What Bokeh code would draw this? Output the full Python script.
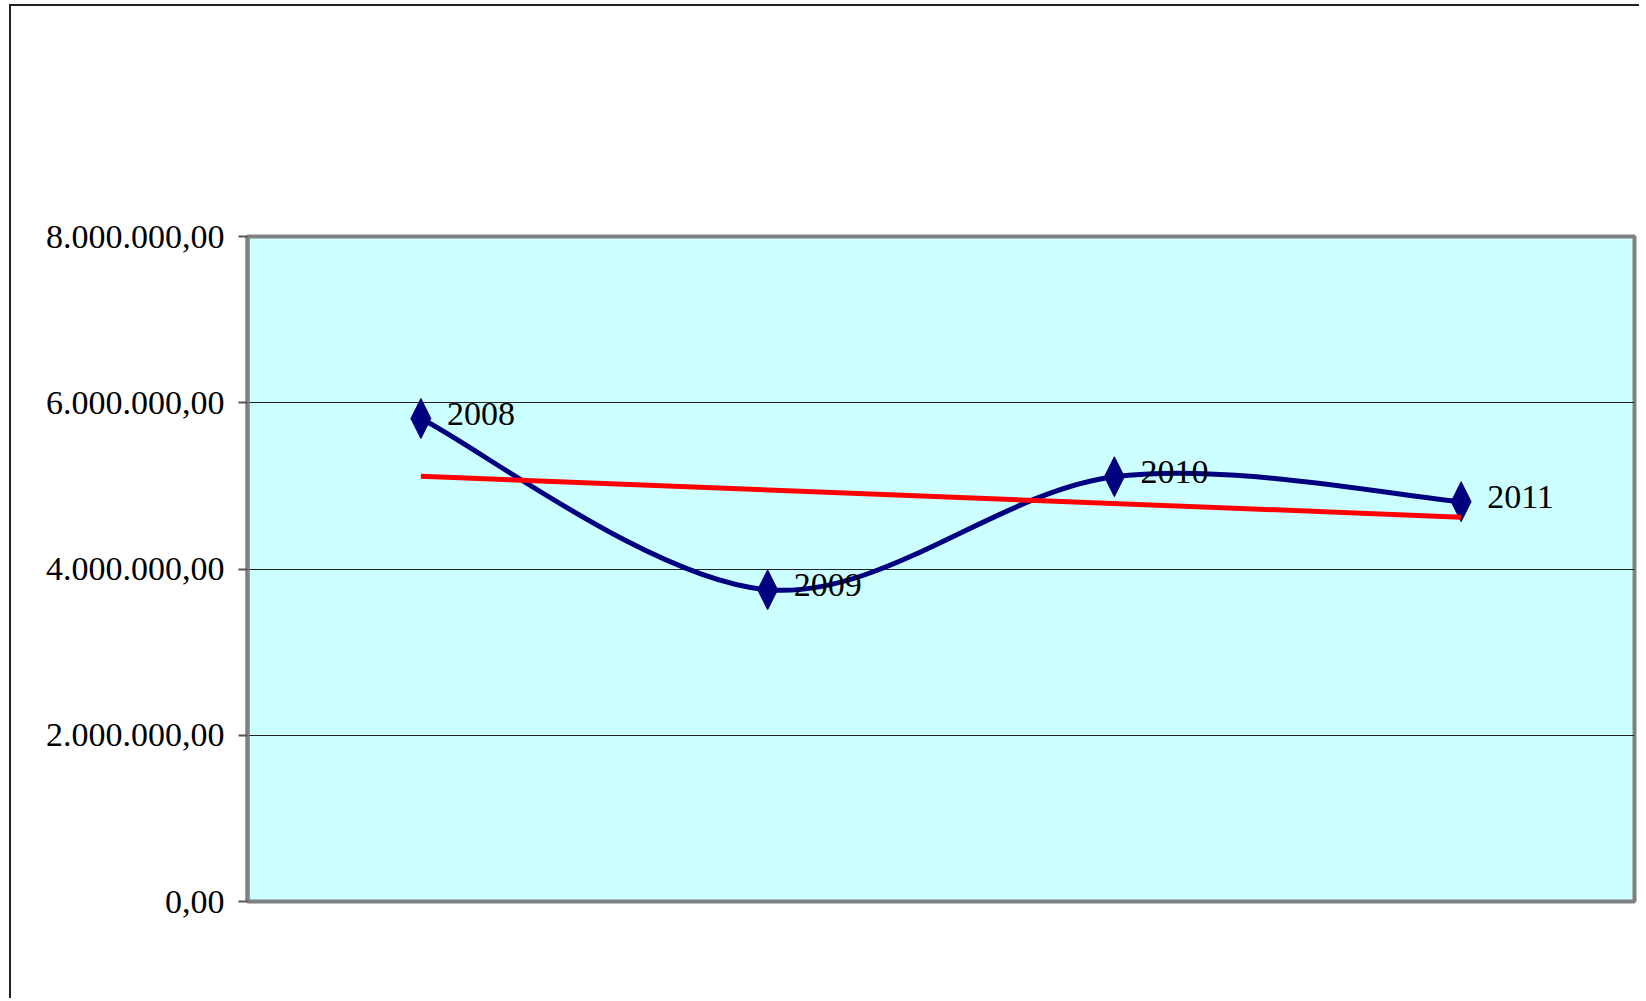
import numpy as np
from bokeh.plotting import figure
from bokeh.models import Range1d, FixedTicker
from bokeh.core.properties import value
from bokeh.embed import file_html
from bokeh.resources import INLINE

# ---- data ----
years = ["2008", "2009", "2010", "2011"]
amounts = [5810000, 3750000, 5110000, 4810000]
tick_values = [0, 2000000, 4000000, 6000000, 8000000]
tick_labels = ["0,00", "2.000.000,00", "4.000.000,00", "6.000.000,00", "8.000.000,00"]

# ---- layout / style ----
W, H = 1630, 994
B_LEFT, B_RIGHT, B_TOP, B_BOTTOM = 236, 7, 230, 99
Y_MAX = tick_values[-1]
NAVY = "#000080"
FONT = "Liberation Serif"
MARK_W_PX, MARK_H_PX = 20, 40

n = len(years)
xs = np.arange(n) + 0.5
ys = np.array(amounts, dtype=float)

p = figure(width=W, height=H, output_backend="svg", toolbar_location=None,
           x_range=Range1d(0, n), y_range=Range1d(0, Y_MAX),
           x_axis_location=None,
           min_border_left=B_LEFT, min_border_right=B_RIGHT,
           min_border_top=B_TOP, min_border_bottom=B_BOTTOM,
           background_fill_color="#CCFFFF", border_fill_color="white")
p.styles = {"border-left": "2px solid #222222", "border-top": "2px solid #222222",
            "margin-left": "9px", "margin-top": "4px"}

p.outline_line_color = "#808080"
p.outline_line_width = 4
p.xgrid.visible = False
p.ygrid.grid_line_color = "#222222"
p.ygrid.grid_line_width = 1

ax = p.yaxis[0]
ax.ticker = FixedTicker(ticks=tick_values)
ax.major_label_overrides = {v: s for v, s in zip(tick_values, tick_labels)}
ax.major_label_text_font = FONT
ax.major_label_text_font_size = "34px"
ax.major_label_text_color = "black"
ax.major_label_standoff = 14
ax.major_tick_out = 9
ax.major_tick_in = 0
ax.major_tick_line_color = "#555555"
ax.major_tick_line_width = 2
ax.minor_tick_line_color = None
ax.axis_line_color = "#808080"
ax.axis_line_width = 4

# ---- smoothed series line (Catmull-Rom style Bezier segments through the points) ----
pts = list(zip(xs, ys))
ext = [pts[0]] + pts + [pts[-1]]
x0, y0, x1, y1, cx0, cy0, cx1, cy1 = ([] for _ in range(8))
for i in range(n - 1):
    (ax0, ay0), (ax1, ay1), (ax2, ay2), (ax3, ay3) = ext[i], ext[i + 1], ext[i + 2], ext[i + 3]
    x0.append(ax1); y0.append(ay1)
    x1.append(ax2); y1.append(ay2)
    cx0.append(ax1 + (ax2 - ax0) / 6.0); cy0.append(ay1 + (ay2 - ay0) / 6.0)
    cx1.append(ax2 - (ax3 - ax1) / 6.0); cy1.append(ay2 - (ay3 - ay1) / 6.0)
p.bezier(x0=x0, y0=y0, x1=x1, y1=y1, cx0=cx0, cy0=cy0, cx1=cx1, cy1=cy1,
         line_color=NAVY, line_width=5, line_cap="round")

# ---- diamond markers (tall, narrow as in the reference) ----
frame_w = W - B_LEFT - B_RIGHT
frame_h = H - B_TOP - B_BOTTOM
hw = (MARK_W_PX / 2) * n / frame_w
hh = (MARK_H_PX / 2) * Y_MAX / frame_h
dxs = [[x - hw, x, x + hw, x] for x in xs]
dys = [[y, y + hh, y, y - hh] for y in ys]
p.patches(dxs, dys, fill_color=NAVY, line_color=NAVY, line_width=1)

# ---- linear trend line ----
idx = np.arange(n, dtype=float)
slope, intercept = np.polyfit(idx, ys, 1)
p.line([xs[0], xs[-1]], [intercept, intercept + slope * (n - 1)],
       line_color="#FF0000", line_width=5)

# ---- data labels ----
p.text(x=list(xs), y=list(ys), text=years, x_offset=26, y_offset=-5,
       text_align="left", text_baseline="middle",
       text_font=value(FONT), text_font_size="34px", text_color="black")

open("out.html", "w").write(file_html(p, INLINE))
